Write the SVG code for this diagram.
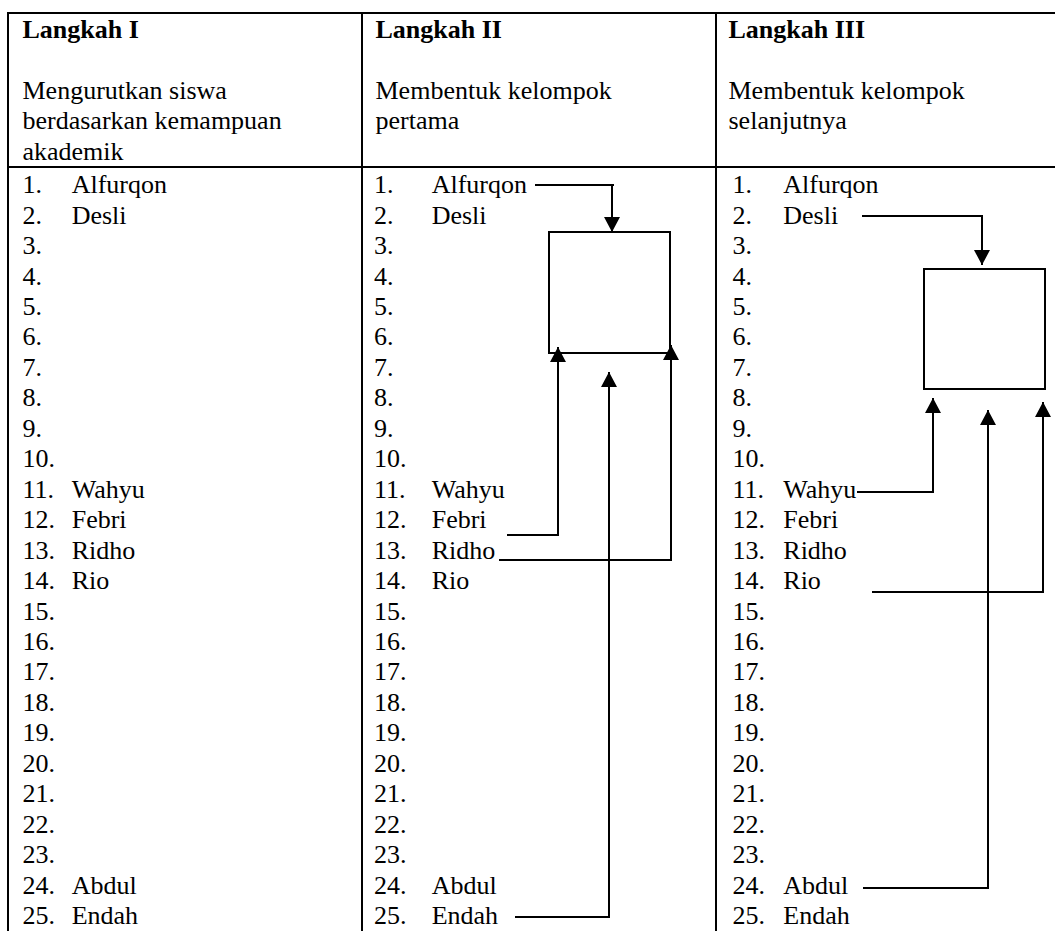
<svg xmlns="http://www.w3.org/2000/svg" width="1055" height="931" viewBox="0 0 1055 931">
<style>
text{font-size:26px;fill:#000}
.b{font-weight:bold}
.grid{stroke:#000;stroke-width:2;fill:none}
.box{stroke:#000;stroke-width:2;fill:#fff}
.c{stroke:#000;stroke-width:2;fill:none}
.a{stroke:#000;stroke-width:2;fill:none;marker-end:url(#ah)}
</style>
<defs>
<marker id="ah" markerUnits="userSpaceOnUse" markerWidth="16" markerHeight="17" refX="15" refY="8" orient="auto">
<path d="M0,0 L15,8 L0,16 z" fill="#000"/>
</marker>
</defs>
<rect width="1055" height="931" fill="#fff"/>
<g id="table" class="grid">
<line x1="7" y1="13" x2="1056" y2="13"/>
<line x1="7" y1="167" x2="1056" y2="167"/>
<line x1="8" y1="12" x2="8" y2="932"/>
<line x1="362" y1="12" x2="362" y2="932"/>
<line x1="716" y1="12" x2="716" y2="932"/>
</g>
<g font-family="'Liberation Serif', 'Times New Roman', Tinos, 'DejaVu Serif', serif">
<g id="header-1">
<text class="b" x="22.5" y="38">Langkah I</text>
<text x="22.5" y="98.8">Mengurutkan siswa</text>
<text x="22.5" y="129.3">berdasarkan kemampuan</text>
<text x="22.5" y="159.8">akademik</text>
</g>
<g id="header-2">
<text class="b" x="375.5" y="38">Langkah II</text>
<text x="375.5" y="98.8">Membentuk kelompok</text>
<text x="375.5" y="129.3">pertama</text>
</g>
<g id="header-3">
<text class="b" x="728.5" y="38">Langkah III</text>
<text x="728.5" y="98.8">Membentuk kelompok</text>
<text x="728.5" y="129.3">selanjutnya</text>
</g>
<g id="list-1">
<text x="22.5" y="193.2">1.</text><text x="71.7" y="193.2">Alfurqon</text>
<text x="22.5" y="223.65">2.</text><text x="71.7" y="223.65">Desli</text>
<text x="22.5" y="254.1">3.</text>
<text x="22.5" y="284.55">4.</text>
<text x="22.5" y="315">5.</text>
<text x="22.5" y="345.45">6.</text>
<text x="22.5" y="375.9">7.</text>
<text x="22.5" y="406.35">8.</text>
<text x="22.5" y="436.8">9.</text>
<text x="22.5" y="467.25">10.</text>
<text x="22.5" y="497.7">11.</text><text x="71.7" y="497.7">Wahyu</text>
<text x="22.5" y="528.15">12.</text><text x="71.7" y="528.15">Febri</text>
<text x="22.5" y="558.6">13.</text><text x="71.7" y="558.6">Ridho</text>
<text x="22.5" y="589.05">14.</text><text x="71.7" y="589.05">Rio</text>
<text x="22.5" y="619.5">15.</text>
<text x="22.5" y="649.95">16.</text>
<text x="22.5" y="680.4">17.</text>
<text x="22.5" y="710.85">18.</text>
<text x="22.5" y="741.3">19.</text>
<text x="22.5" y="771.75">20.</text>
<text x="22.5" y="802.2">21.</text>
<text x="22.5" y="832.65">22.</text>
<text x="22.5" y="863.1">23.</text>
<text x="22.5" y="893.55">24.</text><text x="71.7" y="893.55">Abdul</text>
<text x="22.5" y="924">25.</text><text x="71.7" y="924">Endah</text>
</g>
<g id="list-2">
<text x="374" y="193.2">1.</text><text x="431.7" y="193.2">Alfurqon</text>
<text x="374" y="223.65">2.</text><text x="431.7" y="223.65">Desli</text>
<text x="374" y="254.1">3.</text>
<text x="374" y="284.55">4.</text>
<text x="374" y="315">5.</text>
<text x="374" y="345.45">6.</text>
<text x="374" y="375.9">7.</text>
<text x="374" y="406.35">8.</text>
<text x="374" y="436.8">9.</text>
<text x="374" y="467.25">10.</text>
<text x="374" y="497.7">11.</text><text x="431.7" y="497.7">Wahyu</text>
<text x="374" y="528.15">12.</text><text x="431.7" y="528.15">Febri</text>
<text x="374" y="558.6">13.</text><text x="431.7" y="558.6">Ridho</text>
<text x="374" y="589.05">14.</text><text x="431.7" y="589.05">Rio</text>
<text x="374" y="619.5">15.</text>
<text x="374" y="649.95">16.</text>
<text x="374" y="680.4">17.</text>
<text x="374" y="710.85">18.</text>
<text x="374" y="741.3">19.</text>
<text x="374" y="771.75">20.</text>
<text x="374" y="802.2">21.</text>
<text x="374" y="832.65">22.</text>
<text x="374" y="863.1">23.</text>
<text x="374" y="893.55">24.</text><text x="431.7" y="893.55">Abdul</text>
<text x="374" y="924">25.</text><text x="431.7" y="924">Endah</text>
</g>
<g id="list-3">
<text x="732.5" y="193.2">1.</text><text x="783.3" y="193.2">Alfurqon</text>
<text x="732.5" y="223.65">2.</text><text x="783.3" y="223.65">Desli</text>
<text x="732.5" y="254.1">3.</text>
<text x="732.5" y="284.55">4.</text>
<text x="732.5" y="315">5.</text>
<text x="732.5" y="345.45">6.</text>
<text x="732.5" y="375.9">7.</text>
<text x="732.5" y="406.35">8.</text>
<text x="732.5" y="436.8">9.</text>
<text x="732.5" y="467.25">10.</text>
<text x="732.5" y="497.7">11.</text><text x="783.3" y="497.7">Wahyu</text>
<text x="732.5" y="528.15">12.</text><text x="783.3" y="528.15">Febri</text>
<text x="732.5" y="558.6">13.</text><text x="783.3" y="558.6">Ridho</text>
<text x="732.5" y="589.05">14.</text><text x="783.3" y="589.05">Rio</text>
<text x="732.5" y="619.5">15.</text>
<text x="732.5" y="649.95">16.</text>
<text x="732.5" y="680.4">17.</text>
<text x="732.5" y="710.85">18.</text>
<text x="732.5" y="741.3">19.</text>
<text x="732.5" y="771.75">20.</text>
<text x="732.5" y="802.2">21.</text>
<text x="732.5" y="832.65">22.</text>
<text x="732.5" y="863.1">23.</text>
<text x="732.5" y="893.55">24.</text><text x="783.3" y="893.55">Abdul</text>
<text x="732.5" y="924">25.</text><text x="783.3" y="924">Endah</text>
</g>
</g>
<g id="group-box-1">
<rect class="box" x="549" y="232" width="121" height="121"/>
</g>
<g id="group-box-2">
<rect class="box" x="924" y="269" width="121" height="120"/>
</g>
<g id="connectors">
<line class="c" x1="535" y1="185" x2="614" y2="185"/>
<line class="a" x1="612" y1="184" x2="612" y2="232"/>
<polyline class="a" points="507,535 558,535 558,347"/>
<polyline class="a" points="499,560 671,560 671,345"/>
<polyline class="a" points="515,917 609,917 609,372"/>
<line class="c" x1="862" y1="216" x2="983" y2="216"/>
<line class="a" x1="982" y1="215" x2="982" y2="265"/>
<polyline class="a" points="857,492 933,492 933,398"/>
<polyline class="a" points="863,888 988,888 988,410"/>
<polyline class="a" points="872,592 1043,592 1043,402"/>
</g>
</svg>
